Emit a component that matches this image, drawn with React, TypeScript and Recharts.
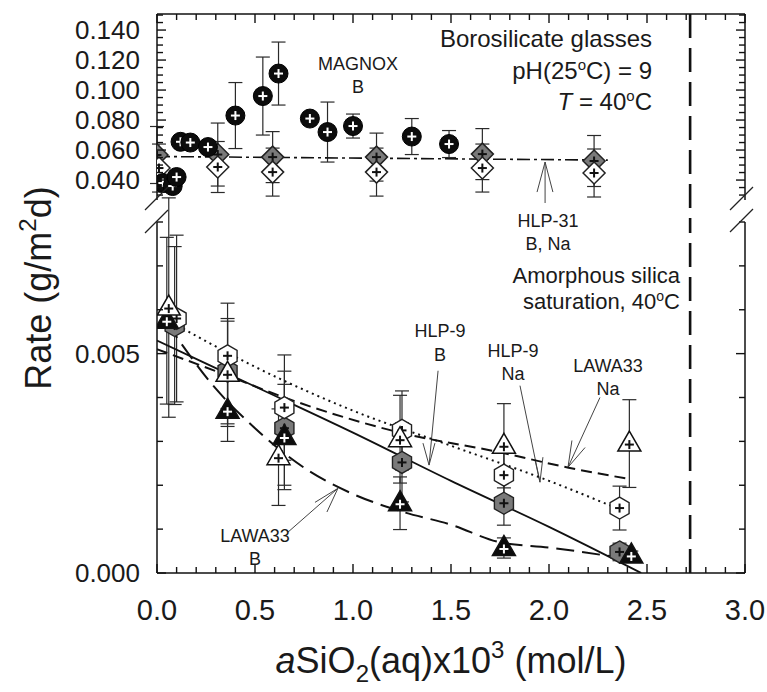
import React from 'react';
import { ComposedChart, Scatter, XAxis, YAxis, ErrorBar, ReferenceLine } from 'recharts';

const FONT = '"Liberation Sans", Arial, Helvetica, sans-serif';
const INK = '#111';

// ---------- axis ticks ----------
const xTicks = [0, 0.1, 0.2, 0.3, 0.4, 0.5, 0.6, 0.7, 0.8, 0.9, 1.0, 1.1, 1.2, 1.3, 1.4, 1.5, 1.6, 1.7, 1.8, 1.9, 2.0, 2.1, 2.2, 2.3, 2.4, 2.5, 2.6, 2.7, 2.8, 2.9, 3.0];
const xLabelTicks = [0, 0.5, 1.0, 1.5, 2.0, 2.5, 3.0];
const topYTicks = [0.030, 0.035, 0.040, 0.045, 0.050, 0.055, 0.060, 0.065, 0.070, 0.075, 0.080, 0.085, 0.090, 0.095, 0.100, 0.105, 0.110, 0.115, 0.120, 0.125, 0.130, 0.135, 0.140, 0.145, 0.150];
const topYLabelTicks = [0.040, 0.060, 0.080, 0.100, 0.120, 0.140];
const bottomYTicks = [0, 0.001, 0.002, 0.003, 0.004, 0.005, 0.006, 0.007, 0.008];
const bottomYLabelTicks = [0, 0.005];
const topDomain = [0.0267, 0.1507];
const bottomDomain = [0, 0.008];
const silicaSaturationX = 2.72;

// ---------- top panel data ----------
const magnoxX = [0.03, 0.08, 0.10, 0.12, 0.17, 0.26, 0.40, 0.54, 0.62, 0.78, 0.87, 1.00, 1.30, 1.49];
const magnoxY = [0.038, 0.036, 0.042, 0.0655, 0.065, 0.062, 0.083, 0.096, 0.111, 0.081, 0.072, 0.076, 0.069, 0.064];
const magnoxErr = [0, 0, 0, 0, 0, 0, 0.022, 0.026, 0.021, 0, 0.020, 0.008, 0.012, 0.009];

const hlp31BX = [0.0, 0.31, 0.59, 1.12, 1.66, 2.23];
const hlp31BY = [0.0567, 0.057, 0.0553, 0.0553, 0.0573, 0.0527];
const hlp31BErr = [0.019, 0.021, 0.017, 0.016, 0.017, 0.017];

const hlp31NaX = [0.01, 0.31, 0.59, 1.12, 1.66, 2.23];
const hlp31NaY = [0.048, 0.0487, 0.0453, 0.0453, 0.048, 0.0447];
const hlp31NaErr = [0.016, 0.017, 0.016, 0.016, 0.016, 0.016];

const hlp31FitX = [0.0, 2.3];
const hlp31FitY = [0.0557, 0.0533];

// ---------- bottom panel data ----------
const hlp9BX = [0.09, 0.36, 0.65, 1.25, 1.77, 2.36];
const hlp9BY = [0.00564, 0.0046, 0.0033, 0.00252, 0.00159, 0.00048];
const hlp9BErr = [0.0018, 0.0012, 0.0013, 0.0009, 0.0005, 0.0002];

const hlp9NaX = [0.10, 0.36, 0.65, 1.25, 1.77, 2.36];
const hlp9NaY = [0.0058, 0.00495, 0.00377, 0.00325, 0.00223, 0.00148];
const hlp9NaErr = [0.0019, 0.0012, 0.0012, 0.0009, 0.0005, 0.0005];

const lawaNaX = [0.06, 0.36, 0.62, 1.24, 1.77, 2.41];
const lawaNaY = [0.00605, 0.00454, 0.00264, 0.00305, 0.0029, 0.00295];
const lawaNaErr = [0.0025, 0.0012, 0.0011, 0.001, 0.00096, 0.001];

const lawaBX = [0.05, 0.36, 0.65, 1.24, 1.77, 2.42];
const lawaBY = [0.00575, 0.0037, 0.0031, 0.00159, 0.00057, 0.0004];
const lawaBErr = [0.0019, 0.0007, 0.0012, 0.0006, 0.00023, 0.0001];

const hlp9BFitX = [0.0, 0.5, 1.0, 1.5, 2.0, 2.47];
const hlp9BFitY = [0.0053, 0.00425, 0.0032, 0.0021, 0.00105, 0.0];
const hlp9NaFitX = [0.08, 0.5, 1.0, 1.5, 2.0, 2.36];
const hlp9NaFitY = [0.0057, 0.0047, 0.0037, 0.0029, 0.0021, 0.00145];
const lawaNaFitX = [0.0, 0.36, 0.65, 1.24, 1.75, 2.1, 2.4];
const lawaNaFitY = [0.0051, 0.0045, 0.0040, 0.0032, 0.00275, 0.0024, 0.00215];
const lawaBFitX = [0.05, 0.3, 0.5, 0.75, 1.0, 1.25, 1.5, 1.75, 2.0, 2.43];
const lawaBFitY = [0.0057, 0.0042, 0.0033, 0.0024, 0.0018, 0.0014, 0.0011, 0.0007, 0.00058, 0.0003];

const zip = (xs: number[], ys: number[], es?: number[]) =>
  xs.map((x, i) => ({ x, y: ys[i], e: es ? es[i] : 0 }));

// ---------- markers ----------
const Plus = ({ cx, cy, color }: any) => (
  <g stroke={color} strokeWidth={2}>
    <line x1={cx - 4.5} x2={cx + 4.5} y1={cy} y2={cy} />
    <line x1={cx} x2={cx} y1={cy - 4.5} y2={cy + 4.5} />
  </g>
);

const Marker = (props: any) => {
  const { cx, cy, kind } = props;
  if (cx == null || cy == null) return <g />;
  if (kind === 'circle') {
    return (
      <g>
        <circle cx={cx} cy={cy} r={9.5} fill="#0c0c0c" stroke="#000" strokeWidth={1} />
        <Plus cx={cx} cy={cy} color="#fff" />
      </g>
    );
  }
  if (kind === 'diamondGray' || kind === 'diamondWhite') {
    const r = 11;
    const pts = `${cx},${cy - r} ${cx + r},${cy} ${cx},${cy + r} ${cx - r},${cy}`;
    return (
      <g>
        <polygon points={pts} fill={kind === 'diamondGray' ? '#7a7a7a' : '#fff'} stroke="#222" strokeWidth={1.5} />
        <Plus cx={cx} cy={cy} color="#111" />
      </g>
    );
  }
  if (kind === 'hexGray' || kind === 'hexWhite') {
    const r = 11;
    const pts = [-90, -30, 30, 90, 150, 210]
      .map((a) => `${cx + r * Math.cos((a * Math.PI) / 180)},${cy + r * Math.sin((a * Math.PI) / 180)}`)
      .join(' ');
    return (
      <g>
        <polygon points={pts} fill={kind === 'hexGray' ? '#7a7a7a' : '#fff'} stroke="#222" strokeWidth={1.4} />
        <Plus cx={cx} cy={cy} color="#111" />
      </g>
    );
  }
  if (kind === 'triWhite' || kind === 'triBlack') {
    const pts = `${cx},${cy - 12.5} ${cx + 11.5},${cy + 7.5} ${cx - 11.5},${cy + 7.5}`;
    const black = kind === 'triBlack';
    return (
      <g>
        <polygon points={pts} fill={black ? '#0c0c0c' : '#fff'} stroke="#111" strokeWidth={1.5} />
        <Plus cx={cx} cy={cy + 1} color={black ? '#fff' : '#111'} />
      </g>
    );
  }
  return <g />;
};

const NoShape = () => <g />;

// ---------- ticks ----------
const near = (v: number, list: number[]) => list.some((t) => Math.abs(t - v) < 1e-7);

const BottomXTick = (p: any) => {
  const { x, y, payload } = p;
  const v = payload.value;
  const major = near(v, xLabelTicks);
  return (
    <g>
      <line x1={x} x2={x} y1={y} y2={y - (major ? 9 : 6)} stroke={INK} strokeWidth={1.4} />
      {major && (
        <text x={x} y={y + 47} textAnchor="middle" fontSize={29} fontFamily={FONT} fill="#1a1a1a">
          {v.toFixed(1)}
        </text>
      )}
    </g>
  );
};

const TopXTick = (p: any) => {
  const { x, y, payload } = p;
  const major = near(payload.value, xLabelTicks);
  return <line x1={x} x2={x} y1={y} y2={y + (major ? 9 : 6)} stroke={INK} strokeWidth={1.4} />;
};

const makeLeftTick = (labels: number[]) => (p: any) => {
  const { x, y, payload } = p;
  const v = payload.value;
  const major = near(v, labels);
  return (
    <g>
      <line x1={x} x2={x + (major ? 9 : 6)} y1={y} y2={y} stroke={INK} strokeWidth={1.4} />
      {major && (
        <text x={x - 17} y={y} dy="0.36em" textAnchor="end" fontSize={26} fontFamily={FONT} fill="#1a1a1a">
          {v.toFixed(3)}
        </text>
      )}
    </g>
  );
};

const makeRightTick = (labels: number[]) => (p: any) => {
  const { x, y, payload } = p;
  const major = near(payload.value, labels);
  return <line x1={x} x2={x - (major ? 9 : 6)} y1={y} y2={y} stroke={INK} strokeWidth={1.4} />;
};

const topLeftTick = makeLeftTick(topYLabelTicks);
const topRightTick = makeRightTick(topYLabelTicks);
const botLeftTick = makeLeftTick(bottomYLabelTicks);
const botRightTick = makeRightTick(bottomYLabelTicks);

const axisLine = { stroke: INK, strokeWidth: 1.5 };
const errProps = { stroke: '#2a2a2a', strokeWidth: 1.2, width: 7 };

// arrows (annotation leaders) in data coordinates: [tail, tip, head1, head2]
const arrowHlp31 = [{ x: 1.98, y: 0.0247 }, { x: 1.98, y: 0.0520 }, { x: 1.939, y: 0.0320 }, { x: 2.02, y: 0.0320 }];
const arrowHlp9B = [{ x: 1.434, y: 0.00461 }, { x: 1.388, y: 0.00246 }, { x: 1.357, y: 0.00296 }, { x: 1.418, y: 0.00296 }];
const arrowHlp9Na = [{ x: 1.852, y: 0.00427 }, { x: 1.954, y: 0.00207 }, { x: 1.929, y: 0.00257 }, { x: 1.969, y: 0.00264 }];
const arrowLawaNa = [{ x: 2.26, y: 0.0040 }, { x: 2.097, y: 0.00241 }, { x: 2.117, y: 0.00302 }, { x: 2.184, y: 0.00286 }];
const arrowLawaB = [{ x: 0.668, y: 0.00093 }, { x: 0.923, y: 0.00193 }, { x: 0.806, y: 0.00161 }, { x: 0.867, y: 0.00139 }];

const renderArrow = (a: { x: number; y: number }[], key: string, yAxisId: string) => [
  <ReferenceLine key={key + 'a'} yAxisId={yAxisId} segment={[a[0], a[1]]} stroke="#444" strokeWidth={1} ifOverflow="visible" />,
  <ReferenceLine key={key + 'b'} yAxisId={yAxisId} segment={[a[1], a[2]]} stroke="#444" strokeWidth={1} ifOverflow="visible" />,
  <ReferenceLine key={key + 'c'} yAxisId={yAxisId} segment={[a[1], a[3]]} stroke="#444" strokeWidth={1} ifOverflow="visible" />,
];

const TopChart = () => (
  <ComposedChart width={767} height={692} margin={{ top: 13, right: 21, bottom: 492, left: 156 }}>
    <XAxis type="number" dataKey="x" domain={[0, 3]} ticks={xTicks} interval={0} orientation="top" height={1}
      tickSize={0} tickMargin={0} tickLine={false} axisLine={axisLine} tick={TopXTick} allowDataOverflow />
    <YAxis yAxisId="l" type="number" dataKey="y" domain={topDomain} ticks={topYTicks} interval={0} width={1}
      tickSize={0} tickMargin={0} tickLine={false} axisLine={axisLine} tick={topLeftTick} allowDataOverflow />
    <YAxis yAxisId="r" orientation="right" type="number" dataKey="y" domain={topDomain} ticks={topYTicks} interval={0} width={1}
      tickSize={0} tickMargin={0} tickLine={false} axisLine={axisLine} tick={topRightTick} allowDataOverflow />
    <ReferenceLine yAxisId="l" segment={[{ x: silicaSaturationX, y: 0.1507 }, { x: silicaSaturationX, y: 0.0120 }]}
      stroke="#111" strokeWidth={2.6} strokeDasharray="24 10" ifOverflow="visible" />
    <Scatter yAxisId="l" data={zip(hlp31FitX, hlp31FitY)} fill="none" shape={NoShape} isAnimationActive={false}
      line={{ stroke: '#111', strokeWidth: 1.6, strokeDasharray: '13 4 3 4' }} />
    <Scatter yAxisId="l" data={zip(hlp31BX, hlp31BY, hlp31BErr)} fill="#7a7a7a" shape={(p: any) => <Marker {...p} kind="diamondGray" />} isAnimationActive={false}>
      <ErrorBar dataKey="e" direction="y" {...errProps} />
    </Scatter>
    <Scatter yAxisId="l" data={zip(hlp31NaX, hlp31NaY, hlp31NaErr)} fill="#fff" shape={(p: any) => <Marker {...p} kind="diamondWhite" />} isAnimationActive={false}>
      <ErrorBar dataKey="e" direction="y" {...errProps} />
    </Scatter>
    <Scatter yAxisId="l" data={zip(magnoxX, magnoxY, magnoxErr)} fill="#000" shape={(p: any) => <Marker {...p} kind="circle" />} isAnimationActive={false}>
      <ErrorBar dataKey="e" direction="y" {...errProps} />
    </Scatter>
    {renderArrow(arrowHlp31, 'h31', 'l')}
  </ComposedChart>
);

const BottomChart = () => (
  <ComposedChart width={767} height={692} margin={{ top: 222, right: 21, bottom: 118, left: 156 }}>
    <XAxis type="number" dataKey="x" domain={[0, 3]} ticks={xTicks} interval={0} orientation="bottom" height={1}
      tickSize={0} tickMargin={0} tickLine={false} axisLine={axisLine} tick={BottomXTick} allowDataOverflow />
    <YAxis yAxisId="l" type="number" dataKey="y" domain={bottomDomain} ticks={bottomYTicks} interval={0} width={1}
      tickSize={0} tickMargin={0} tickLine={false} axisLine={axisLine} tick={botLeftTick} allowDataOverflow />
    <YAxis yAxisId="r" orientation="right" type="number" dataKey="y" domain={bottomDomain} ticks={bottomYTicks} interval={0} width={1}
      tickSize={0} tickMargin={0} tickLine={false} axisLine={axisLine} tick={botRightTick} allowDataOverflow />
    <ReferenceLine yAxisId="l" x={silicaSaturationX} stroke="#111" strokeWidth={2.6} strokeDasharray="24 10" />
    <Scatter yAxisId="l" data={zip(hlp9BFitX, hlp9BFitY)} fill="none" shape={NoShape} isAnimationActive={false}
      lineJointType="monotoneX" line={{ stroke: '#111', strokeWidth: 1.8 }} />
    <Scatter yAxisId="l" data={zip(hlp9NaFitX, hlp9NaFitY)} fill="none" shape={NoShape} isAnimationActive={false}
      lineJointType="monotoneX" line={{ stroke: '#111', strokeWidth: 2, strokeDasharray: '2 4' }} />
    <Scatter yAxisId="l" data={zip(lawaNaFitX, lawaNaFitY)} fill="none" shape={NoShape} isAnimationActive={false}
      lineJointType="monotoneX" line={{ stroke: '#111', strokeWidth: 2, strokeDasharray: '11 6' }} />
    <Scatter yAxisId="l" data={zip(lawaBFitX, lawaBFitY)} fill="none" shape={NoShape} isAnimationActive={false}
      lineJointType="monotoneX" line={{ stroke: '#111', strokeWidth: 2, strokeDasharray: '18 8' }} />
    <Scatter yAxisId="l" data={zip(hlp9BX, hlp9BY, hlp9BErr)} fill="#7a7a7a" shape={(p: any) => <Marker {...p} kind="hexGray" />} isAnimationActive={false}>
      <ErrorBar dataKey="e" direction="y" {...errProps} />
    </Scatter>
    <Scatter yAxisId="l" data={zip(hlp9NaX, hlp9NaY, hlp9NaErr)} fill="#fff" shape={(p: any) => <Marker {...p} kind="hexWhite" />} isAnimationActive={false}>
      <ErrorBar dataKey="e" direction="y" {...errProps} />
    </Scatter>
    <Scatter yAxisId="l" data={zip(lawaBX, lawaBY, lawaBErr)} fill="#000" shape={(p: any) => <Marker {...p} kind="triBlack" />} isAnimationActive={false}>
      <ErrorBar dataKey="e" direction="y" {...errProps} />
    </Scatter>
    <Scatter yAxisId="l" data={zip(lawaNaX, lawaNaY, lawaNaErr)} fill="#fff" shape={(p: any) => <Marker {...p} kind="triWhite" />} isAnimationActive={false}>
      <ErrorBar dataKey="e" direction="y" {...errProps} />
    </Scatter>
    {renderArrow(arrowHlp9B, 'h9b', 'l')}
    {renderArrow(arrowHlp9Na, 'h9n', 'l')}
    {renderArrow(arrowLawaNa, 'lwn', 'l')}
    {renderArrow(arrowLawaB, 'lwb', 'l')}
  </ComposedChart>
);

const Lbl = ({ x, y, anchor = 'middle', size = 18, children }: any) => (
  <text x={x} y={y} textAnchor={anchor} fontSize={size} fontFamily={FONT} fill="#1a1a1a">{children}</text>
);

const Overlay = () => (
  <svg width={767} height={692} style={{ position: 'absolute', left: 0, top: 0, pointerEvents: 'none' }}>
    {/* axis break marks */}
    <g stroke="#222" strokeWidth={1.2}>
      <line x1={145} y1={210} x2={168} y2={187} />
      <line x1={145} y1={233} x2={168} y2={210} />
      <line x1={730} y1={210} x2={753} y2={187} />
      <line x1={730} y1={232} x2={753} y2={209} />
    </g>
    {/* top panel texts */}
    <Lbl x={652} y={47} anchor="end" size={24}>Borosilicate glasses</Lbl>
    <text x={652} y={79} textAnchor="end" fontSize={24} fontFamily={FONT} fill="#1a1a1a">
      pH(25<tspan dy={-9} fontSize={15}>o</tspan><tspan dy={9}>C) = 9</tspan>
    </text>
    <text x={652} y={110} textAnchor="end" fontSize={24} fontFamily={FONT} fill="#1a1a1a">
      <tspan fontStyle="italic">T</tspan> = 40<tspan dy={-9} fontSize={15}>o</tspan><tspan dy={9}>C</tspan>
    </text>
    <Lbl x={358} y={70}>MAGNOX</Lbl>
    <Lbl x={358} y={93}>B</Lbl>
    <Lbl x={548} y={227}>HLP-31</Lbl>
    <Lbl x={548} y={250}>B, Na</Lbl>
    <Lbl x={680} y={283} anchor="end" size={22}>Amorphous silica</Lbl>
    <text x={680} y={309} textAnchor="end" fontSize={22} fontFamily={FONT} fill="#1a1a1a">
      saturation, 40<tspan dy={-8} fontSize={14}>o</tspan><tspan dy={8}>C</tspan>
    </text>
    <Lbl x={440} y={337}>HLP-9</Lbl>
    <Lbl x={440} y={361}>B</Lbl>
    <Lbl x={513} y={357}>HLP-9</Lbl>
    <Lbl x={513} y={380}>Na</Lbl>
    <Lbl x={608} y={372}>LAWA33</Lbl>
    <Lbl x={608} y={395}>Na</Lbl>
    <Lbl x={255} y={542}>LAWA33</Lbl>
    <Lbl x={255} y={565}>B</Lbl>
    {/* axis titles */}
    <text x={451} y={673} textAnchor="middle" fontSize={36} fontFamily={FONT} fill="#1a1a1a">
      <tspan fontStyle="italic">a</tspan>SiO<tspan dy={9} fontSize={24}>2</tspan><tspan dy={-9}>(aq)x10</tspan>
      <tspan dy={-15} fontSize={24}>3</tspan><tspan dy={15}> (mol/L)</tspan>
    </text>
    <text transform="translate(51,288) rotate(-90)" textAnchor="middle" fontSize={36} fontFamily={FONT} fill="#1a1a1a">
      Rate (g/m<tspan dy={-15} fontSize={24}>2</tspan><tspan dy={15}>d)</tspan>
    </text>
  </svg>
);

export default function App() {
  return (
    <div style={{ position: 'absolute', left: 0, top: 0, width: 767, height: 692, background: '#fff', overflow: 'hidden' }}>
      <div style={{ position: 'absolute', left: 0, top: 0 }}><TopChart /></div>
      <div style={{ position: 'absolute', left: 0, top: 0 }}><BottomChart /></div>
      <Overlay />
    </div>
  );
}
